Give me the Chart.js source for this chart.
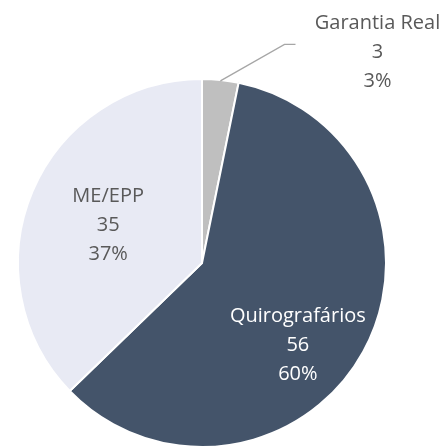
<!DOCTYPE html>
<html>
<head>
<meta charset="utf-8">
<script src="https://cdn.jsdelivr.net/npm/chart.js@4.4.0/dist/chart.umd.min.js"></script>
<style>
html,body{margin:0;padding:0;background:#fff;overflow:hidden;}
#wrap{width:446px;height:446px;overflow:hidden;}
</style>
</head>
<body>
<div id="wrap"><canvas id="c" width="446" height="450"></canvas></div>
<script>
const categories = ["Garantia Real", "Quirografários", "ME/EPP"];
const values = [3, 56, 35];
const percents = ["3%", "60%", "37%"];
const colors = ["#bfbfbf", "#44546a", "#e8eaf4"];
const labelColors = ["#595959", "#ffffff", "#595959"];
// label placement: angle (deg clockwise from top) and radius fraction
const labelAngles = [39.8, 130.5, 292];
const labelRadii = [1.49, 0.685, 0.55];

const labelPlugin = {
  id: 'sliceLabels',
  afterDatasetsDraw(chart) {
    const ctx = chart.ctx;
    const meta = chart.getDatasetMeta(0);
    ctx.save();
    ctx.font = '20px "Open Sans", sans-serif';
    ctx.textAlign = 'center';
    ctx.textBaseline = 'middle';
    meta.data.forEach((arc, i) => {
      const p = arc.getProps(['x','y','outerRadius','startAngle','endAngle'], true);
      const a = labelAngles[i] * Math.PI / 180;
      const r = p.outerRadius * labelRadii[i];
      const lx = p.x + Math.sin(a) * r;
      const ly = p.y - Math.cos(a) * r;
      if (labelRadii[i] > 1) {
        const mid = (p.startAngle + p.endAngle) / 2;
        const sx = p.x + Math.cos(mid) * p.outerRadius;
        const sy = p.y + Math.sin(mid) * p.outerRadius;
        ctx.strokeStyle = '#a6a6a6';
        ctx.lineWidth = 1.3;
        ctx.beginPath();
        ctx.moveTo(sx, sy + 1);
        ctx.lineTo(lx - 93, ly - 8);
        ctx.lineTo(lx - 82, ly - 8);
        ctx.stroke();
      }
      ctx.fillStyle = labelColors[i];
      const lines = [categories[i], String(values[i]), percents[i]];
      lines.forEach((t, k) => ctx.fillText(t, lx, ly + (k - 1) * 29));
    });
    ctx.restore();
  }
};

new Chart(document.getElementById('c'), {
  type: 'pie',
  data: {
    labels: categories,
    datasets: [{
      data: values,
      backgroundColor: colors,
      borderColor: '#ffffff',
      borderWidth: 2
    }]
  },
  options: {
    responsive: false,
    animation: false,
    layout: { padding: { left: 17, right: 59, top: 78, bottom: 2 } },
    plugins: { legend: { display: false }, tooltip: { enabled: false } }
  },
  plugins: [labelPlugin]
});
</script>
</body>
</html>
